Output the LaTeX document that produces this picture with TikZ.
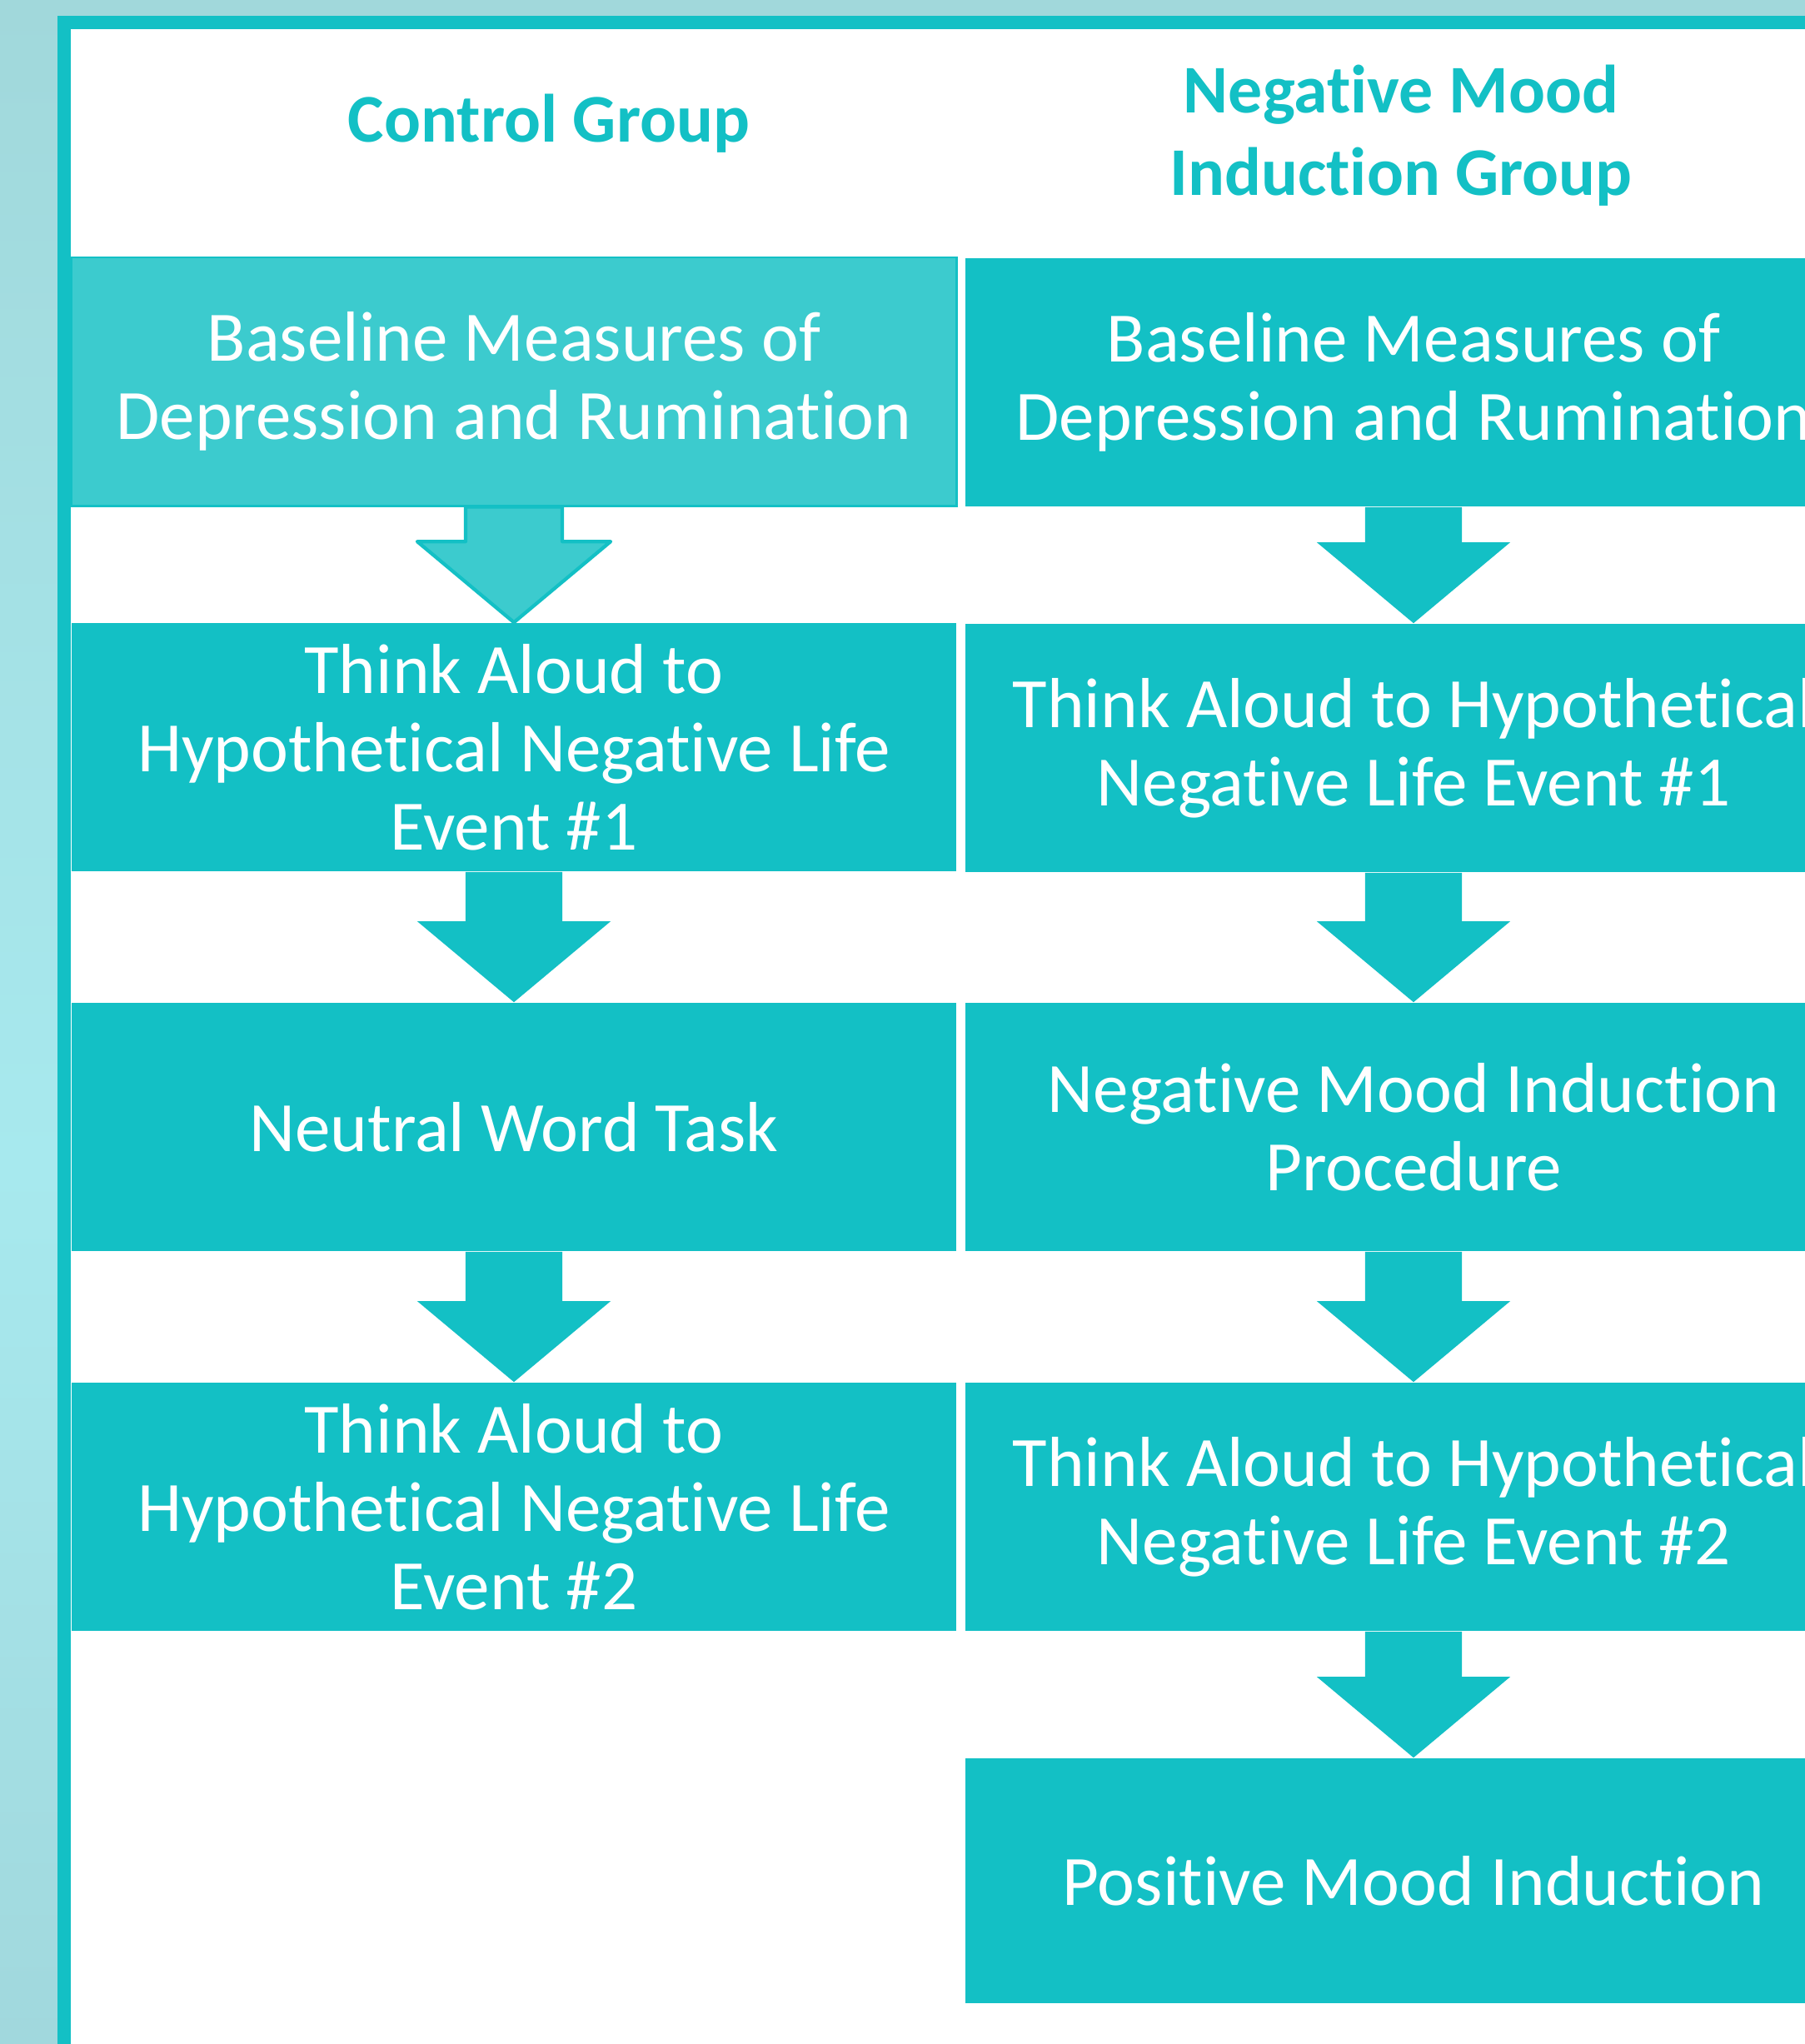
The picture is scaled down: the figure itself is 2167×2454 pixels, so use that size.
\documentclass[tikz,border=0pt]{standalone}
\usepackage{fontspec}
\setmainfont{Carlito}[Ligatures=NoCommon]
\usetikzlibrary{calc}

\definecolor{boxteal}{RGB}{19,192,197}
\definecolor{paleteal}{RGB}{60,203,206}
\definecolor{bgtop}{RGB}{161,216,219}
\definecolor{bgmid}{RGB}{167,233,238}
\definecolor{bgbot}{RGB}{161,216,221}

% fat block arrow from the bottom of one step to the top of the next
\newcommand{\stepdown}[3][]{%
    \fill[#1] let \p1 = (#2.south), \p2 = (#3.north) in
        (\x1-0.58cm, \y1) -- (\x1-0.58cm, \y2+0.97cm) -- (\x1-1.16cm, \y2+0.97cm)
        -- (\x1, \y2) -- (\x1+1.16cm, \y2+0.97cm) -- (\x1+0.58cm, \y2+0.97cm)
        -- (\x1+0.58cm, \y1) -- cycle;}

\begin{document}
\begin{tikzpicture}[x=0.01cm, y=-0.01cm,
    stepbox/.style={fill=boxteal, text=white, align=center, inner sep=0pt,
        minimum height=2.98cm, font=\fontsize{24.2}{26.7}\selectfont},
    leftbox/.style={stepbox, minimum width=10.62cm},
    rightbox/.style={stepbox, minimum width=10.76cm},
    groupname/.style={text=boxteal, align=center, font=\bfseries\fontsize{23.3}{28.2}\selectfont}]
    \useasboundingbox (0,0) rectangle (2167,2454);
    \clip (0,0) rectangle (2167,2454);
    \shade[top color=bgtop, bottom color=bgmid] (0,0) rectangle (2167,1400);
    \shade[top color=bgmid, bottom color=bgbot] (0,1399) rectangle (2167,2454);
    \draw[line width=0.16cm, draw=boxteal, fill=white] (77,27) rectangle (2400,2700);

    \node[groupname] (CG) at (659, 148) {Control Group};
    \node[groupname] (NG) at (1682, 163) {Negative Mood\\Induction Group};

    \node[leftbox, fill=paleteal, draw=boxteal, line width=0.8pt] (CB) at (617, 458) {Baseline Measures of\\Depression and Rumination};
    \node[leftbox] (CT1) at (617, 897) {Think Aloud to\\Hypothetical Negative Life\\Event \#1};
    \node[leftbox] (CW) at (617, 1353) {Neutral Word Task};
    \node[leftbox] (CT2) at (617, 1809) {Think Aloud to\\Hypothetical Negative Life\\Event \#2};

    \node[rightbox] (NB) at (1697, 459) {Baseline Measures of\\Depression and Rumination};
    \node[rightbox] (NT1) at (1697, 898) {Think Aloud to Hypothetical\\Negative Life Event \#1};
    \node[rightbox] (NM) at (1697, 1353) {Negative Mood Induction\\Procedure};
    \node[rightbox] (NT2) at (1697, 1809) {Think Aloud to Hypothetical\\Negative Life Event \#2};
    \node[rightbox, minimum height=2.94cm] (NP) at (1697, 2258) {Positive Mood Induction};

    \stepdown[fill=paleteal, draw=boxteal, line width=1.2pt, line join=round]{CB}{CT1}
    \stepdown[fill=boxteal]{CT1}{CW}
    \stepdown[fill=boxteal]{CW}{CT2}
    \stepdown[fill=boxteal]{NB}{NT1}
    \stepdown[fill=boxteal]{NT1}{NM}
    \stepdown[fill=boxteal]{NM}{NT2}
    \stepdown[fill=boxteal]{NT2}{NP}
\end{tikzpicture}
\end{document}
